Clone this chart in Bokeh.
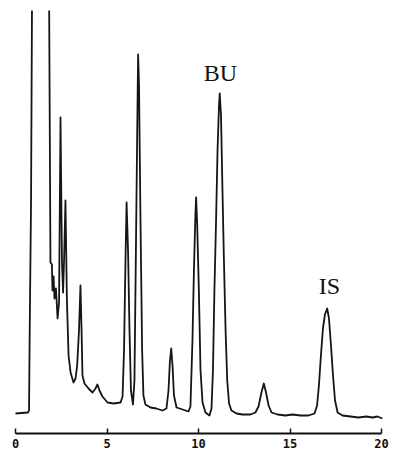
from bokeh.plotting import figure
from bokeh.models import Range1d, LinearAxis, FixedTicker, Label, ColumnDataSource
from bokeh.embed import file_html
from bokeh.resources import INLINE

# Retention time (min) and detector signal (arbitrary units)
time_min = [0.00, 0.68, 0.74, 0.77, 0.85, 0.90, 0.96, 1.80, 1.84, 1.91,
            1.99, 2.02, 2.08, 2.13, 2.21, 2.30, 2.38, 2.46, 2.54, 2.60,
            2.65, 2.73, 2.81, 2.90, 3.01, 3.17, 3.28, 3.37, 3.47, 3.55,
            3.61, 3.66, 3.77, 3.99, 4.21, 4.37, 4.48, 4.59, 4.75, 5.03,
            5.36, 5.74, 5.85, 5.93, 6.01, 6.07, 6.15, 6.23, 6.31, 6.42,
            6.50, 6.58, 6.67, 6.70, 6.75, 6.83, 6.92, 6.99, 7.10, 7.38,
            7.70, 8.03, 8.25, 8.36, 8.44, 8.51, 8.58, 8.66, 8.80, 9.13,
            9.45, 9.56, 9.67, 9.75, 9.83, 9.87, 9.93, 10.02, 10.11, 10.22,
            10.38, 10.60, 10.71, 10.79, 10.87, 10.96, 11.04, 11.12, 11.16, 11.23,
            11.31, 11.39, 11.48, 11.57, 11.67, 11.80, 12.08, 12.40, 12.84, 13.11,
            13.28, 13.44, 13.57, 13.69, 13.83, 13.99, 14.32, 14.75, 15.14, 15.57,
            16.01, 16.34, 16.48, 16.58, 16.69, 16.80, 16.91, 17.03, 17.13, 17.24,
            17.35, 17.46, 17.60, 17.87, 18.31, 18.74, 19.18, 19.51, 19.78, 20.05]
signal = [20, 21, 23, 91, 233, 423, 533, 533, 423, 171,
          169, 143, 157, 135, 145, 115, 131, 316, 171, 141,
          171, 233, 133, 78, 61, 51, 55, 68, 103, 148,
          103, 58, 50, 45, 41, 45, 49, 43, 37, 31,
          30, 31, 37, 83, 173, 231, 183, 103, 43, 29,
          53, 183, 333, 379, 348, 213, 83, 38, 29, 26,
          25, 23, 25, 43, 73, 85, 68, 38, 26, 24,
          22, 27, 93, 163, 218, 236, 208, 143, 63, 31,
          21, 18, 25, 63, 143, 213, 283, 328, 340, 318,
          243, 173, 103, 53, 30, 23, 20, 19, 19, 21,
          27, 41, 50, 41, 28, 21, 19, 18, 19, 18,
          18, 20, 28, 48, 78, 105, 119, 125, 115, 88,
          58, 33, 21, 18, 17, 16, 17, 16, 17, 15]

tick_values = [0, 5, 10, 15, 20]
axis_unit = "min"
peak_names = ["BU", "IS"]
peak_label_t = [11.20, 17.16]
peak_label_s = [361, 148]

PX_PER_MIN = 18.3
W, H = 412, 463

p = figure(width=W, height=H, output_backend="svg", toolbar_location=None,
           x_axis_location=None, y_axis_location=None,
           x_range=Range1d(-15 / PX_PER_MIN, (W - 15) / PX_PER_MIN),
           y_range=Range1d(0, 423),
           min_border_left=0, min_border_right=0,
           min_border_top=10, min_border_bottom=30)
p.outline_line_color = None
p.grid.visible = False
p.background_fill_color = "white"
p.border_fill_color = "white"

src = ColumnDataSource(dict(t=time_min, s=signal))
p.line("t", "s", source=src, line_color="#151515", line_width=1.8,
       line_join="round")

ax = LinearAxis(ticker=FixedTicker(ticks=tick_values), bounds=(0, 20))
ax.major_tick_in = 5
ax.major_tick_out = 0
ax.minor_tick_in = 0
ax.minor_tick_out = 0
ax.axis_line_width = 2
ax.axis_line_color = "#111111"
ax.major_tick_line_width = 1.5
ax.major_tick_line_color = "#111111"
ax.major_label_text_font = "DejaVu Sans Mono"
ax.major_label_text_font_style = "bold"
ax.major_label_text_font_size = "12px"
ax.major_label_text_color = "#111111"
ax.major_label_standoff = 5
p.add_layout(ax, "below")

p.add_layout(Label(x=20.52, y=-16, text=axis_unit, text_align="left",
                   text_baseline="alphabetic", text_font="DejaVu Sans Mono",
                   text_font_style="bold", text_font_size="11px",
                   text_color="#111111"))

for name, tx, sy in zip(peak_names, peak_label_t, peak_label_s):
    p.add_layout(Label(x=tx, y=sy, text=name, text_align="center",
                       text_baseline="alphabetic", text_font="Liberation Serif",
                       text_font_size="24px", text_color="#111111"))

open("out.html", "w").write(file_html(p, INLINE))
